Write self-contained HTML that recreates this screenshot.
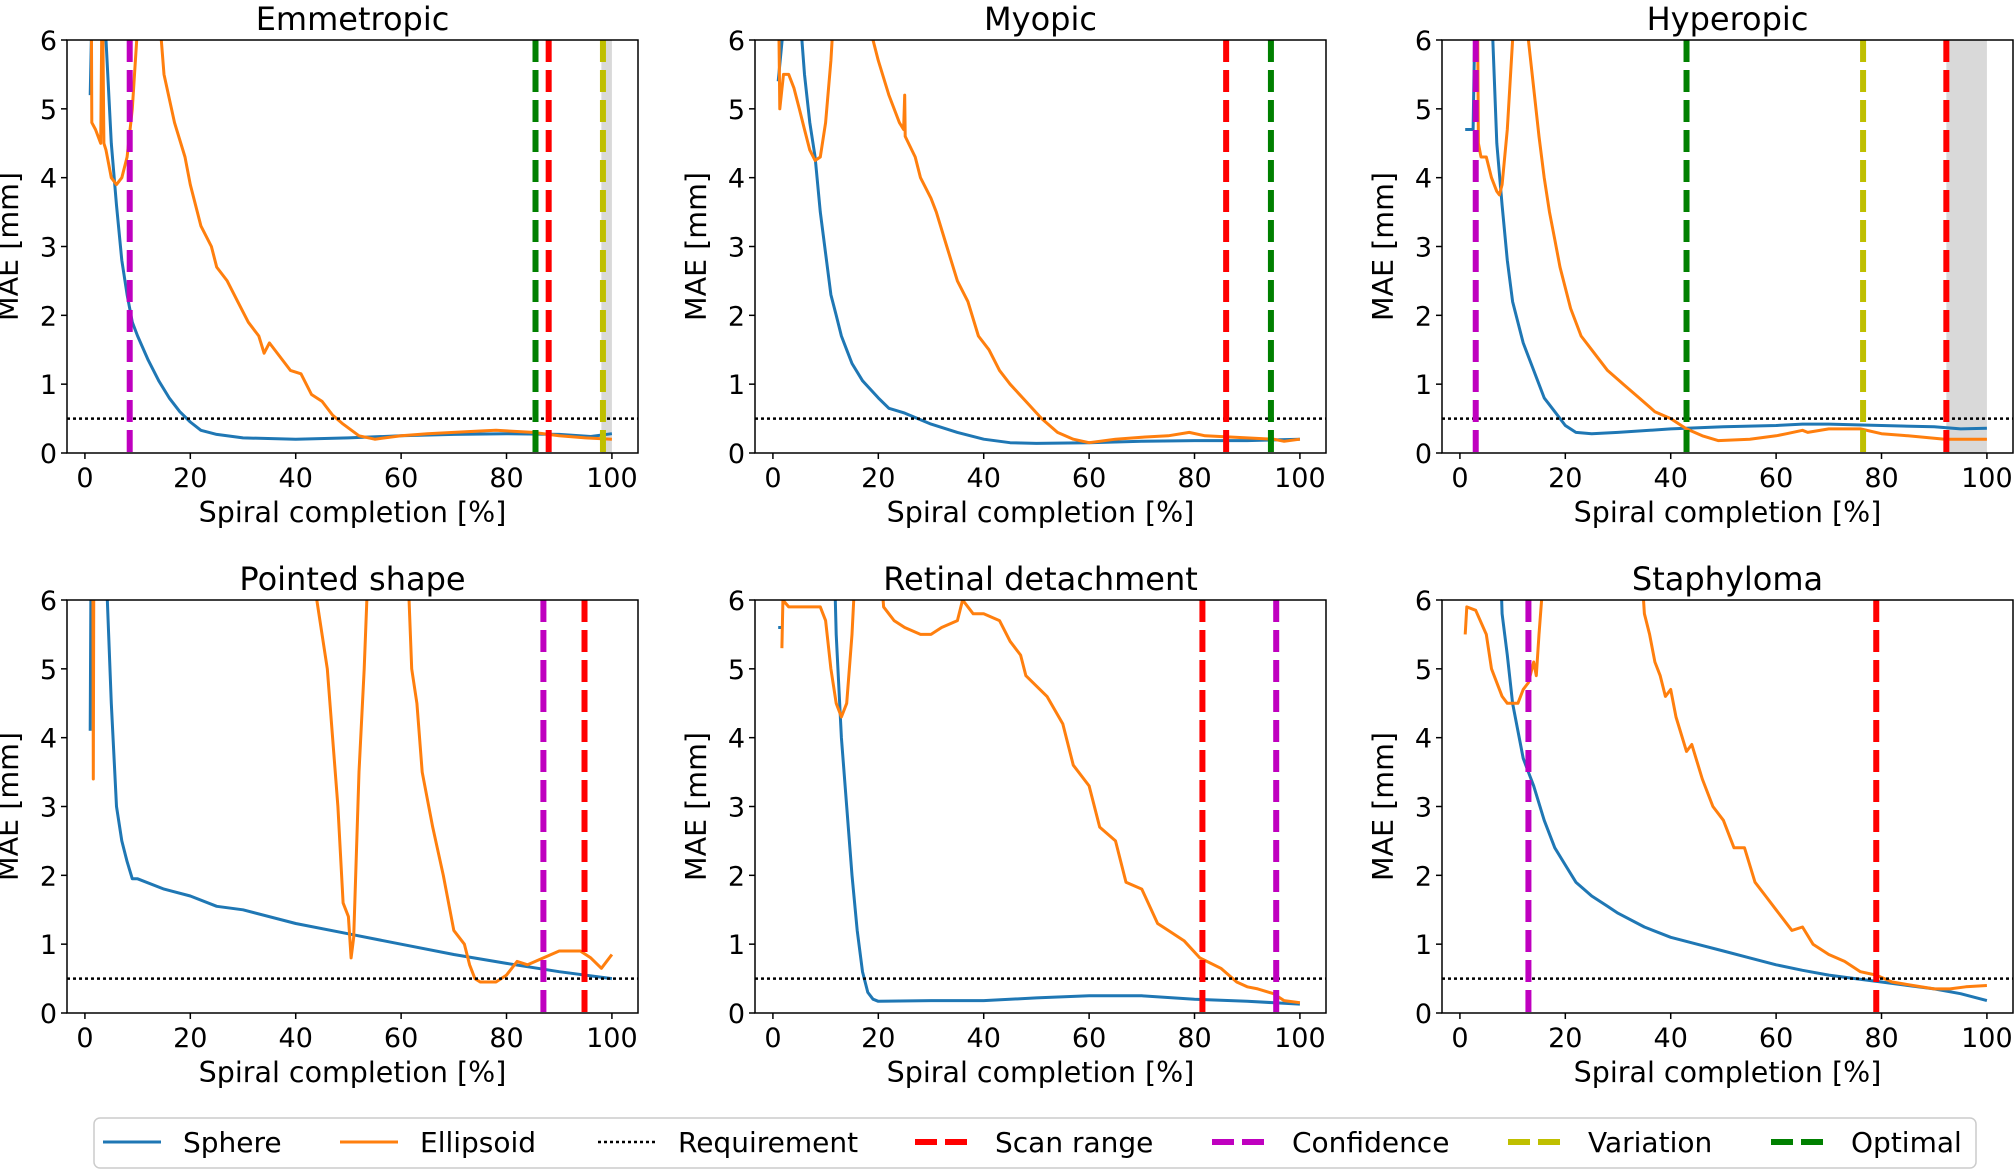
<!DOCTYPE html>
<html><head><meta charset="utf-8"><style>
html,body{margin:0;padding:0;background:#fff;}
svg{display:block;font-family:"DejaVu Sans","Liberation Sans",sans-serif;}
</style></head><body>
<svg id="fig" width="2016" height="1170" viewBox="0 0 2016 1170" xmlns="http://www.w3.org/2000/svg"></svg>
<script>
// ---- data (x = spiral completion %, y = MAE mm) ----
const xTicks = [0, 20, 40, 60, 80, 100];
const yTicks = [0, 1, 2, 3, 4, 5, 6];
const requirement = 0.5;
const panelTitles = ["Emmetropic", "Myopic", "Hyperopic", "Pointed shape", "Retinal detachment", "Staphyloma"];

const emmSphereX = [1,1.5,3,4,5,6,7,8,9,10,12,14,16,18,20,22,25,30,40,50,60,70,80,90,96,100];
const emmSphereY = [5.2,7,7,6.0,4.5,3.6,2.8,2.3,1.9,1.7,1.35,1.05,0.8,0.6,0.45,0.33,0.27,0.22,0.2,0.22,0.25,0.27,0.28,0.27,0.24,0.28];
const emmEllX = [1.2,1.3,2,3,3.3,3.6,4,5,6,7,8,9,10,12,14.5,15,17,19,20,22,24,25,27,29,31,33,34,35,37,39,41,43,45,47,49,52,55,60,65,70,75,78,85,90,95,100];
const emmEllY = [7,4.8,4.7,4.5,7,4.5,4.4,4.0,3.9,4.0,4.3,5.0,6.2,9,6.0,5.5,4.8,4.3,3.9,3.3,3.0,2.7,2.5,2.2,1.9,1.7,1.45,1.6,1.4,1.2,1.15,0.85,0.75,0.55,0.42,0.25,0.2,0.25,0.28,0.3,0.32,0.33,0.3,0.25,0.22,0.2];

const myoSphereX = [1,3,5,6,7,8,9,10,11,12,13,14,15,17,20,22,25,30,35,40,45,50,60,70,80,90,100];
const myoSphereY = [5.4,7,6.5,5.5,4.8,4.3,3.5,2.9,2.3,2.0,1.7,1.5,1.3,1.05,0.8,0.65,0.58,0.42,0.3,0.2,0.15,0.14,0.15,0.17,0.18,0.18,0.2];
const myoEllX = [1,1.3,2,3,4,5,6,7,8,9,10,11,12,16,19,20,22,24,24.8,25,25.1,27,28,30,31,33,35,37,39,41,43,45,48,51,54,57,60,65,70,75,79,82,90,95,97,100];
const myoEllY = [7,5.0,5.5,5.5,5.3,5.0,4.7,4.4,4.25,4.3,4.8,5.7,7,8,6.0,5.7,5.2,4.8,4.7,5.2,4.6,4.3,4.0,3.7,3.5,3.0,2.5,2.2,1.7,1.5,1.2,1.0,0.75,0.5,0.3,0.2,0.15,0.2,0.23,0.25,0.3,0.25,0.22,0.2,0.17,0.2];

const hypSphereX = [1,2.5,3,6,7,8,9,10,12,14,16,18,20,22,25,30,40,50,60,65,70,80,90,95,100];
const hypSphereY = [4.7,4.7,7,6.5,4.5,3.6,2.8,2.2,1.6,1.2,0.8,0.6,0.4,0.3,0.28,0.3,0.35,0.38,0.4,0.42,0.42,0.4,0.38,0.35,0.36];
const hypEllX = [3.3,3.5,4,5,6,7,7.5,8,9,10,11,12,13,14,15,16,17,18,19,20,21,23,25,28,31,34,37,40,43,46,49,55,60,62,65,66,70,76,80,85,92,100];
const hypEllY = [7,4.5,4.3,4.3,4.0,3.8,3.75,3.9,4.7,6,7,7.5,6,5.3,4.6,4.0,3.5,3.1,2.7,2.4,2.1,1.7,1.5,1.2,1.0,0.8,0.6,0.5,0.35,0.25,0.18,0.2,0.25,0.28,0.33,0.3,0.35,0.35,0.28,0.25,0.2,0.2];

const ptdSphereX = [1,1.2,null,4,5,6,7,8,9,10,15,20,25,30,40,50,60,70,80,90,100];
const ptdSphereY = [4.1,7,null,6.5,4.5,3.0,2.5,2.2,1.95,1.95,1.8,1.7,1.55,1.5,1.3,1.15,1.0,0.85,0.72,0.6,0.5];
const ptdEllX = [1.5,1.6,1.7,null,44,46,47,48,49,50,50.5,51,52,53,54,61,62,63,64,66,68,70,72,73,74,75,78,80,82,84,87,90,94,96,98,100];
const ptdEllY = [7,3.4,7,null,6.0,5.0,4.0,3.0,1.6,1.4,0.8,1.1,3.5,5.0,7,7,5.0,4.5,3.5,2.7,2.0,1.2,1.0,0.7,0.5,0.45,0.45,0.55,0.75,0.7,0.8,0.9,0.9,0.8,0.65,0.85];

const retSphereX = [1,1.6,null,11.5,12,13,14,15,16,17,18,19,20,30,40,50,60,70,80,90,100];
const retSphereY = [5.6,5.6,null,7,5.5,4.0,3.0,2.0,1.2,0.6,0.3,0.2,0.17,0.18,0.18,0.22,0.25,0.25,0.2,0.17,0.13];
const retEllX = [1.7,1.9,3,9,10,11,12,13,14,15,16,20,21,23,25,28,30,32,35,36,38,40,43,45,47,48,52,55,57,60,62,65,67,70,73,75,78,81,85,88,90,92,95,97,100];
const retEllY = [5.3,6.0,5.9,5.9,5.7,5.0,4.5,4.3,4.5,5.5,7,7,5.9,5.7,5.6,5.5,5.5,5.6,5.7,6.0,5.8,5.8,5.7,5.4,5.2,4.9,4.6,4.2,3.6,3.3,2.7,2.5,1.9,1.8,1.3,1.2,1.05,0.8,0.65,0.45,0.38,0.35,0.28,0.18,0.15];

const staSphereX = [7.5,8,9,10,11,12,13,14,16,18,20,22,25,28,30,35,40,45,50,55,60,65,70,75,80,85,90,95,100];
const staSphereY = [7,5.8,5.2,4.5,4.1,3.7,3.5,3.3,2.8,2.4,2.15,1.9,1.7,1.55,1.45,1.25,1.1,1.0,0.9,0.8,0.7,0.62,0.55,0.5,0.45,0.4,0.35,0.28,0.18];
const staEllX = [1,1.3,3,5,6,8,9,11,12,13,14,14.5,15,16,17,18,34,35,36,37,38,39,40,41,43,44,46,48,50,52,54,56,58,60,63,65,67,70,73,76,79,82,86,90,93,96,100];
const staEllY = [5.5,5.9,5.85,5.5,5.0,4.6,4.5,4.5,4.7,4.8,5.1,4.9,5.5,6.5,6.2,7,7,5.8,5.5,5.1,4.9,4.6,4.7,4.3,3.8,3.9,3.4,3.0,2.8,2.4,2.4,1.9,1.7,1.5,1.2,1.25,1.0,0.85,0.75,0.6,0.55,0.45,0.4,0.35,0.35,0.38,0.4];

// vertical markers: [type, x]
const emmMarkers = [["confidence",8.5],["optimal",85.5],["scan",88],["variation",98.3]];
const myoMarkers = [["scan",86],["optimal",94.5]];
const hypMarkers = [["confidence",3],["optimal",43],["variation",76.5],["scan",92.3]];
const ptdMarkers = [["confidence",87],["scan",94.8]];
const retMarkers = [["scan",81.5],["confidence",95.5]];
const staMarkers = [["confidence",13],["scan",79]];
const emmShade = [98, 100];
const hypShade = [92.3, 100];

const panelSphereX = [emmSphereX, myoSphereX, hypSphereX, ptdSphereX, retSphereX, staSphereX];
const panelSphereY = [emmSphereY, myoSphereY, hypSphereY, ptdSphereY, retSphereY, staSphereY];
const panelEllX = [emmEllX, myoEllX, hypEllX, ptdEllX, retEllX, staEllX];
const panelEllY = [emmEllY, myoEllY, hypEllY, ptdEllY, retEllY, staEllY];
const panelMarkers = [emmMarkers, myoMarkers, hypMarkers, ptdMarkers, retMarkers, staMarkers];
const panelShades = [emmShade, null, hypShade, null, null, null];

// ---- drawing ----
const NS = "http://www.w3.org/2000/svg";
const svg = document.getElementById("fig");
const COLORS = {sphere:"#1f77b4", ellipsoid:"#ff7f0e", scan:"#ff0000", confidence:"#bf00bf", variation:"#bfbf00", optimal:"#008000"};
const lefts = [67, 755, 1442], tops = [40, 600];
const W = 571, H = 413, XMIN = -3.4, XMAX = 104.95, YMIN = 0, YMAX = 6;

function mk(tag, attrs, parent) {
  const e = document.createElementNS(NS, tag);
  for (const k in attrs) e.setAttribute(k, attrs[k]);
  (parent || svg).appendChild(e);
  return e;
}

for (let p = 0; p < 6; p++) {
  const L = lefts[p % 3], T = tops[Math.floor(p / 3)];
  const sx = v => L + (v - XMIN) / (XMAX - XMIN) * W;
  const sy = v => T + H - (v - YMIN) / (YMAX - YMIN) * H;
  const g = mk("g", {});
  
  
  const clipId = "clip" + p;
  const cp = mk("clipPath", {id: clipId}, g);
  mk("rect", {x: L, y: T, width: W, height: H}, cp);
  const plot = mk("g", {"clip-path": "url(#" + clipId + ")"}, g);

  const sh = panelShades[p];
  if (sh) {
    const r = mk("rect", {x: sx(sh[0]), y: T, width: sx(sh[1]) - sx(sh[0]), height: H, fill: "#d9d9d9"}, plot);
    
    
  }

  function path(xs, ys, color, name) {
    let d = "", pen = false;
    for (let i = 0; i < xs.length; i++) {
      if (xs[i] === null || ys[i] === null) { pen = false; continue; }
      d += (pen ? "L" : "M") + sx(xs[i]).toFixed(1) + "," + sy(ys[i]).toFixed(1);
      pen = true;
    }
    const e = mk("path", {d: d, fill: "none", stroke: color, "stroke-width": 3, "stroke-linejoin": "round"}, plot);
    
    
  }
  path(panelSphereX[p], panelSphereY[p], COLORS.sphere, 'sphere-line');
  path(panelEllX[p], panelEllY[p], COLORS.ellipsoid, 'ellipsoid-line');

  const req = mk("line", {x1: L, x2: L + W, y1: sy(requirement), y2: sy(requirement), stroke: "#000", "stroke-width": 2.5, "stroke-dasharray": "3,3"}, plot);
  
  

  panelMarkers[p].forEach(m => {
    const e = mk("line", {x1: sx(m[1]), x2: sx(m[1]), y1: T, y2: T + H, stroke: COLORS[m[0]], "stroke-width": 6, "stroke-dasharray": "22,8"}, plot);
    
    
  });

  const frame = mk("rect", {x: L, y: T, width: W, height: H, fill: "none", stroke: "#000", "stroke-width": 1.5}, g);
  
  

  xTicks.forEach(v => {
    mk("line", {x1: sx(v), x2: sx(v), y1: T + H, y2: T + H + 6, stroke: "#000", "stroke-width": 1.5}, g);
    const t = mk("text", {x: sx(v), y: T + H + 34, "text-anchor": "middle", "font-size": 27}, g);
    t.textContent = v;
    
    
  });
  yTicks.forEach(v => {
    mk("line", {x1: L - 6, x2: L, y1: sy(v), y2: sy(v), stroke: "#000", "stroke-width": 1.5}, g);
    const t = mk("text", {x: L - 10, y: sy(v) + 10, "text-anchor": "end", "font-size": 27}, g);
    t.textContent = v;
    
    
  });
  const xl = mk("text", {x: L + W / 2, y: T + H + 69, "text-anchor": "middle", "font-size": 28.5}, g);
  xl.textContent = "Spiral completion [%]";
  
  
  const yx = L - 49, yy = T + H / 2;
  const yl = mk("text", {x: yx, y: yy, "text-anchor": "middle", "font-size": 28.5, transform: "rotate(-90 " + yx + " " + yy + ")"}, g);
  yl.textContent = "MAE [mm]";
  
  
  const tt = mk("text", {x: L + W / 2, y: T - 10, "text-anchor": "middle", "font-size": 32}, g);
  tt.textContent = panelTitles[p];
  
  
}

// legend
const legendLabels = ["Sphere", "Ellipsoid", "Requirement", "Scan range", "Confidence", "Variation", "Optimal"];
const legendKeys = ["sphere", "ellipsoid", "requirement", "scan", "confidence", "variation", "optimal"];
const legendLineX = [103, 340, 598, 915, 1212, 1508, 1771];
const lg = mk("g", {});


mk("rect", {x: 94, y: 1118, width: 1882, height: 50, rx: 6, fill: "#fff", stroke: "#cccccc", "stroke-width": 1.5}, lg);
legendLabels.forEach((lab, i) => {
  const k = legendKeys[i], x = legendLineX[i], y = 1142;
  let a;
  if (k === "sphere" || k === "ellipsoid") a = {stroke: COLORS[k], "stroke-width": 3};
  else if (k === "requirement") a = {stroke: "#000", "stroke-width": 2.5, "stroke-dasharray": "3,3"};
  else a = {stroke: COLORS[k], "stroke-width": 6, "stroke-dasharray": "22,8"};
  const ln = mk("line", Object.assign({x1: x, x2: x + 58, y1: y, y2: y}, a), lg);
  
  
  const t = mk("text", {x: x + 80, y: y + 10, "font-size": 28}, lg);
  t.textContent = lab;
  
  
});
</script>
</body></html>
